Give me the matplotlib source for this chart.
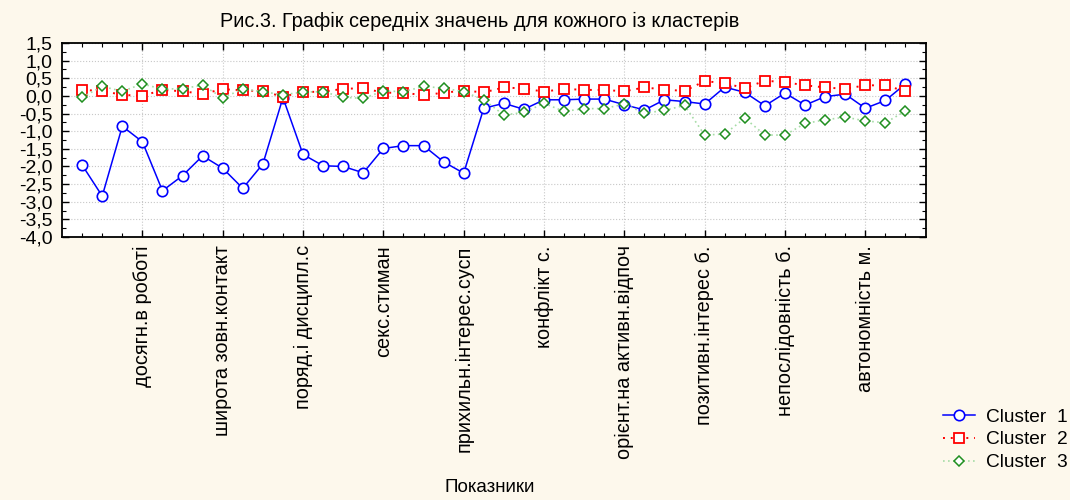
import matplotlib.pyplot as plt
from matplotlib.ticker import FuncFormatter, MultipleLocator

plt.rcParams['font.family'] = ['Liberation Sans', 'DejaVu Sans']
plt.rcParams['font.size'] = 12

# середні значення для кожного кластера (42 показники)
cluster1 = [-1.96, -2.84, -0.86, -1.30, -2.69, -2.26, -1.70, -2.05, -2.62, -1.93,
            -0.05, -1.66, -1.98, -2.00, -2.18, -1.49, -1.41, -1.41, -1.87, -2.19,
            -0.35, -0.21, -0.38, -0.11, -0.11, -0.09, -0.09, -0.25, -0.40, -0.11,
            -0.16, -0.23, 0.25, 0.10, -0.28, 0.08, -0.26, -0.02, 0.05, -0.35,
            -0.13, 0.34]
cluster2 = [0.17, 0.14, 0.03, 0.00, 0.17, 0.13, 0.06, 0.19, 0.16, 0.13,
            -0.02, 0.11, 0.12, 0.20, 0.22, 0.09, 0.09, 0.02, 0.09, 0.15,
            0.10, 0.24, 0.21, 0.12, 0.20, 0.17, 0.17, 0.13, 0.24, 0.18,
            0.14, 0.42, 0.36, 0.22, 0.43, 0.39, 0.30, 0.24, 0.20, 0.30,
            0.30, 0.13]
cluster3 = [-0.04, 0.27, 0.13, 0.34, 0.19, 0.21, 0.30, -0.05, 0.19, 0.12,
            0.03, 0.11, 0.12, -0.04, -0.07, 0.14, 0.12, 0.27, 0.22, 0.12,
            -0.11, -0.54, -0.47, -0.21, -0.44, -0.36, -0.36, -0.23, -0.49, -0.41,
            -0.27, -1.11, -1.08, -0.63, -1.11, -1.11, -0.78, -0.68, -0.60, -0.71,
            -0.76, -0.43]

tick_pos = [4, 8, 12, 16, 20, 24, 28, 32, 36, 40]
tick_labels = ['досягн.в роботі', 'широта зовн.контакт', 'поряд.і дисципл.с',
               'секс.стиман', 'прихильн.інтерес.сусп', 'конфлікт с.',
               'орієнт.на активн.відпоч', 'позитивн.інтерес б.',
               'непослідовність б.', 'автономність м.']

x = list(range(1, len(cluster1) + 1))

fig = plt.figure(figsize=(10.7, 5.0), dpi=100)
fig.patch.set_facecolor('#fdf8ec')
ax = fig.add_axes([0.058, 0.526, 0.807, 0.388])
ax.set_facecolor('white')

ax.plot(x, cluster1, color='#0000ff', linewidth=1.1, marker='o', markersize=7.5,
        markerfacecolor='white', markeredgecolor='#0000ff', markeredgewidth=1.2,
        label='Cluster  1', zorder=3)
ax.plot(x, cluster2, color='#ff0000', linewidth=1.4, linestyle=(0, (1, 3)),
        marker='s', markersize=7, markerfacecolor='white', markeredgecolor='#ff0000',
        markeredgewidth=1.3, label='Cluster  2', zorder=4)
ax.plot(x, cluster3, color='#a6dca6', linewidth=1.2, linestyle=(0, (1, 2)),
        marker='D', markersize=5.5, markerfacecolor='white', markeredgecolor='#1f8f1f',
        markeredgewidth=1.1, label='Cluster  3', zorder=5)

ax.set_xlim(0, 43)
ax.set_ylim(-4.0, 1.5)
ax.yaxis.set_major_locator(MultipleLocator(0.5))
ax.yaxis.set_major_formatter(FuncFormatter(lambda v, p: ('%.1f' % v).replace('.', ',')))
ax.yaxis.set_minor_locator(MultipleLocator(0.25))
ax.set_xticks(tick_pos)
ax.set_xticklabels(tick_labels, rotation=90, va='top', ha='center')
ax.set_xticks(x, minor=True)
ax.tick_params(axis='both', which='both', direction='in', top=True, right=True)
ax.tick_params(which='major', length=5, width=1)
ax.tick_params(which='minor', length=3, width=0.8)
ax.tick_params(axis='x', which='major', pad=6, labelsize=14.3)
ax.tick_params(axis='y', which='major', labelsize=14, pad=7)
ax.grid(True, which='major', color='#c8c8c8', linestyle=':', linewidth=0.8)
for s in ax.spines.values():
    s.set_linewidth(1.3)

fig.text(0.448, 0.958, 'Рис.3. Графік середніх значень для кожного із кластерів',
         ha='center', va='center', fontsize=14.3)
fig.text(0.458, 0.024, 'Показники', ha='center', va='center', fontsize=13.5)

fig.legend(loc='upper right', bbox_to_anchor=(1.014, 0.218), frameon=False,
           fontsize=13.8, handlelength=1.7, labelspacing=0.28, handletextpad=0.55)

fig.savefig('out.png', dpi=100, facecolor=fig.get_facecolor())
